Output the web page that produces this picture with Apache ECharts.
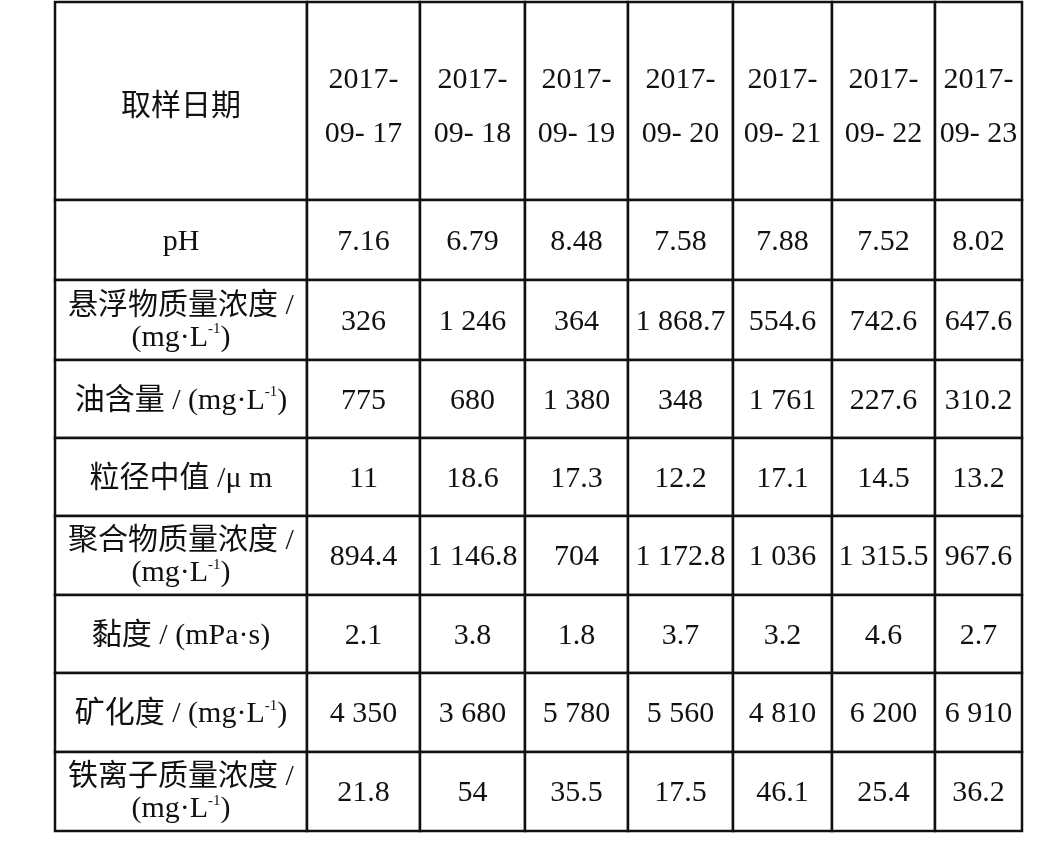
<!DOCTYPE html>
<html><head><meta charset="utf-8">
<script src="https://cdn.jsdelivr.net/npm/echarts@6/dist/echarts.min.js"></script>
<style>html,body{margin:0;background:#fff}#c{width:1047px;height:849px}</style>
</head><body><div id="c"></div>
<script>
const headerLabel = '取样日期';
const dates = ['2017-\n09- 17','2017-\n09- 18','2017-\n09- 19','2017-\n09- 20','2017-\n09- 21','2017-\n09- 22','2017-\n09- 23'];
const rowLabels = ['pH','悬浮物质量浓度 /\n(mg·L{s|-1})','油含量 / (mg·L{s|-1})','粒径中值 /μ m','聚合物质量浓度 /\n(mg·L{s|-1})','黏度 / (mPa·s)','矿化度 / (mg·L{s|-1})','铁离子质量浓度 /\n(mg·L{s|-1})'];
const pH = ['7.16','6.79','8.48','7.58','7.88','7.52','8.02'];
const suspended = ['326','1 246','364','1 868.7','554.6','742.6','647.6'];
const oil = ['775','680','1 380','348','1 761','227.6','310.2'];
const particle = ['11','18.6','17.3','12.2','17.1','14.5','13.2'];
const polymer = ['894.4','1 146.8','704','1 172.8','1 036','1 315.5','967.6'];
const viscosity = ['2.1','3.8','1.8','3.7','3.2','4.6','2.7'];
const salinity = ['4 350','3 680','5 780','5 560','4 810','6 200','6 910'];
const iron = ['21.8','54','35.5','17.5','46.1','25.4','36.2'];
const rows = [pH, suspended, oil, particle, polymer, viscosity, salinity, iron];

const colX = [55,307,420,525,628,733,832,935,1022];
const rowY = [2,200,280,360,438,516,595,673,752,831];

const cells = [];
cells.push({value:[0,0], t: headerLabel});
dates.forEach((d,i)=>cells.push({value:[i+1,0], t:d}));
rows.forEach((r,ri)=>{
  cells.push({value:[0,ri+1], t: rowLabels[ri]});
  r.forEach((v,ci)=>cells.push({value:[ci+1,ri+1], t:v}));
});

const chart = echarts.init(document.getElementById('c'));
const font = '"Liberation Serif","Noto Sans CJK SC",serif';
chart.setOption({
  animation:false,
  grid:{left:0,right:0,top:0,bottom:0},
  xAxis:{type:'value',min:0,max:1047,show:false},
  yAxis:{type:'value',min:0,max:849,inverse:true,show:false},
  series:[{
    type:'custom',
    data:cells,
    renderItem:(params,api)=>{
      const c=api.value(0), r=api.value(1);
      const p0=api.coord([colX[c],rowY[r]]), p1=api.coord([colX[c+1],rowY[r+1]]);
      const d=cells[params.dataIndex];
      const isHeadDate = r===0 && c>0;
      const yOff = r===0 ? 6 : 2;
      return {type:'group',children:[
        {type:'rect',shape:{x:p0[0],y:p0[1],width:p1[0]-p0[0],height:p1[1]-p0[1]},
         style:{fill:'#fff',stroke:'#111',lineWidth:2.5}},
        {type:'text',style:{x:(p0[0]+p1[0])/2,y:(p0[1]+p1[1])/2+yOff,text:d.t,
          align:'center',verticalAlign:'middle',fill:'#111',
          fontFamily:font,fontSize:30,lineHeight:isHeadDate?54:32,
          rich:{s:{fontSize:15,verticalAlign:'top',padding:[0,0,14,0],fontFamily:font,fill:'#111'}}}}
      ]};
    }
  }]
});
</script></body></html>
